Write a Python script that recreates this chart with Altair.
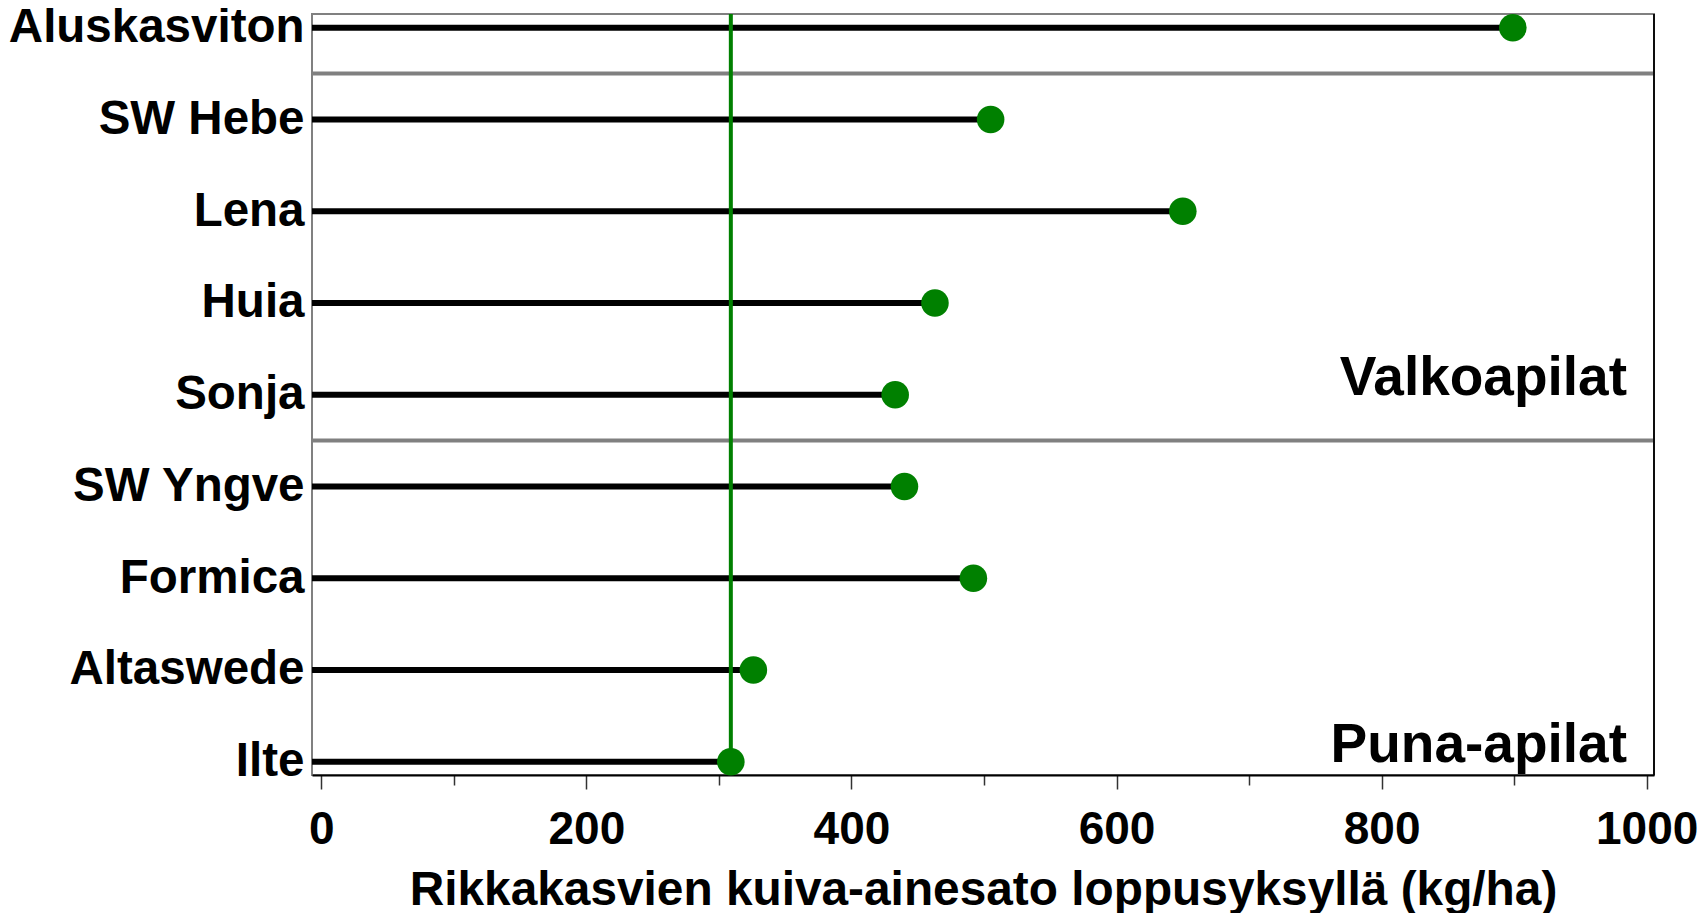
import json
import altair as alt
import pandas as pd

# ---- data ----
categories = ["Aluskasviton", "SW Hebe", "Lena", "Huia", "Sonja",
              "SW Yngve", "Formica", "Altaswede", "Ilte"]
values = [899, 505, 650, 463, 433, 440, 492, 326, 309]
groups = ["Aluskasviton", "Valkoapilat", "Valkoapilat", "Valkoapilat", "Valkoapilat",
          "Puna-apilat", "Puna-apilat", "Puna-apilat", "Puna-apilat"]
group_labels = ["Valkoapilat", "Puna-apilat"]
reference_name = "Ilte"
x_ticks = [0, 100, 200, 300, 400, 500, 600, 700, 800, 900, 1000]
x_title = "Rikkakasvien kuiva-ainesato loppusyksyllä (kg/ha)"

# ---- tables ----
df = pd.DataFrame({"name": categories, "value": values, "group": groups})
df["idx"] = range(len(df))

sep_rows = [{"pos": i - 0.5} for i in range(1, len(groups)) if groups[i] != groups[i - 1]]
sep_df = pd.DataFrame(sep_rows)

lab_df = (df[df["group"].isin(group_labels)]
          .groupby("group", as_index=False)["idx"].max())

ref_df = df[df["name"] == reference_name]

W, H = 1342, 761
FONT = "Liberation Sans"
GREEN = "#008000"

x_scale = alt.Scale(domain=[-7, 1005.5], nice=False, zero=False)
y_scale = alt.Scale(domain=[-0.149, 8.145], reverse=True, nice=False, zero=False)

x_axis = alt.Axis(
    values=x_ticks,
    format="d",
    labelExpr="datum.value % 200 === 0 ? datum.label : ''",
    title=x_title,
    titleFont=FONT, titleFontSize=47.8, titleFontWeight="bold", titleColor="black",
    titleBaseline="alphabetic", titleY=129,
    labelFont=FONT, labelFontSize=46, labelFontWeight="bold", labelColor="black",
    labelBaseline="alphabetic", labelPadding=54, labelFlush=False,
    labelOverlap=False, labelLimit=0,
    tickSize={"condition": {"test": "datum.value % 200 === 0", "value": 14}, "value": 10},
    tickColor="#333333", tickWidth=1.5,
    domain=True, domainColor="black", domainWidth=1.8,
    grid=False,
)
y_axis = alt.Axis(
    values=list(range(len(categories))),
    labelExpr=json.dumps(categories) + "[datum.value]",
    title=None,
    labelFont=FONT, labelFontSize=47.5, labelFontWeight="bold", labelColor="black",
    labelPadding=8, labelFlush=False, labelOverlap=False, labelLimit=0,
    ticks=False, domain=False, grid=False,
)

base = alt.Chart(df)

stems = base.mark_rule(color="black", strokeWidth=6, strokeCap="butt").encode(
    x=alt.X("value:Q", scale=x_scale, axis=x_axis),
    x2=alt.value(0),
    y=alt.Y("idx:Q", scale=y_scale, axis=y_axis),
)

seps = alt.Chart(sep_df).mark_rule(color="#808080", strokeWidth=4).encode(
    y=alt.Y("pos:Q", scale=y_scale),
    x=alt.value(0),
    x2=alt.value(W),
)

right_edge = alt.Chart(alt.Data(values=[{"e": 1}])).mark_rule(
    color="black", strokeWidth=1.8
).encode(x=alt.value(W), y=alt.value(0), y2=alt.value(H))

ref_line = alt.Chart(ref_df).mark_rule(color=GREEN, strokeWidth=4).encode(
    x=alt.X("value:Q", scale=x_scale),
    y=alt.Y("idx:Q", scale=y_scale),
    y2=alt.value(0),
)

dots = base.mark_circle(color=GREEN, opacity=1, size=760).encode(
    x=alt.X("value:Q", scale=x_scale),
    y=alt.Y("idx:Q", scale=y_scale),
)

texts = alt.Chart(lab_df).mark_text(
    align="right", baseline="alphabetic", font=FONT, fontSize=55,
    fontWeight="bold", color="black"
).encode(
    x=alt.value(W - 27),
    y=alt.Y("idx:Q", scale=y_scale),
    text="group:N",
)

chart = alt.layer(seps, stems, ref_line, dots, texts, right_edge).properties(
    width=W, height=H,
    autosize=alt.AutoSizeParams(type="none"),
    padding={"left": 304, "top": 6, "right": 45, "bottom": 138},
).configure_view(stroke="#808080", strokeWidth=2)

chart.save("out.html", embed_options={"renderer": "svg", "actions": False})
